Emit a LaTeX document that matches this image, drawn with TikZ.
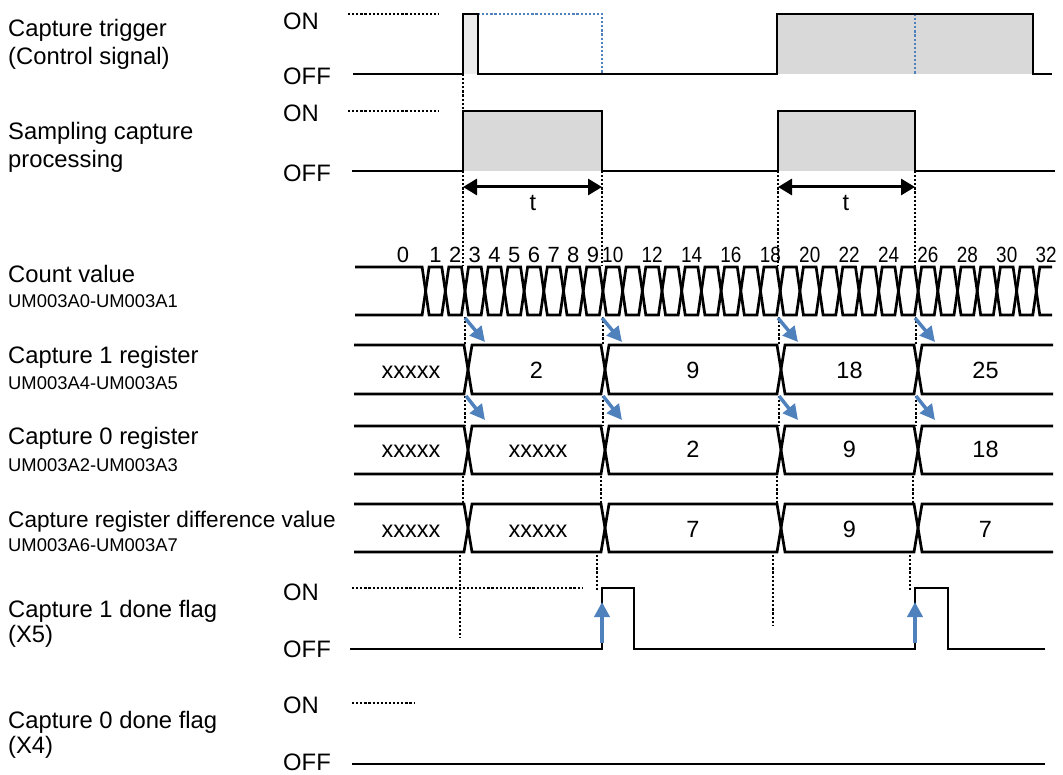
\documentclass[tikz,border=0pt]{standalone}
\usepackage{fontspec}
\setmainfont{Liberation Sans}
\usetikzlibrary{arrows.meta}
\definecolor{myblue}{RGB}{79,129,189}
\definecolor{fillgray}{RGB}{217,217,217}
\definecolor{palegray}{RGB}{236,236,236}
\begin{document}
\begin{tikzpicture}[x=1pt,y=-1pt,
  sig/.style={line width=2.9pt},
  bus/.style={line width=2.7pt},
  dots/.style={line width=2.4pt, dash pattern=on 2.2pt off 1.9pt},
  bdots/.style={myblue, line width=2.4pt, dash pattern=on 2.2pt off 1.9pt},
  lbl/.style={anchor=base west, inner sep=0pt, font=\fontsize{23.8}{28}\selectfont},
  sub/.style={anchor=base west, inner sep=0pt, font=\fontsize{18.4}{22}\selectfont},
  val/.style={anchor=base, inner sep=0pt, font=\fontsize{23.5}{28}\selectfont},
  cnt/.style={anchor=base, inner sep=0pt, font=\fontsize{22}{26}\selectfont},
  barrow/.style={myblue, line width=3.5pt, -{Triangle[length=15pt,width=15pt]}},
  uarrow/.style={myblue, line width=4pt, -{Triangle[length=15pt,width=15pt]}},
  tarrow/.style={line width=3pt, {Triangle[length=14pt,width=16pt]}-{Triangle[length=14pt,width=16pt]}},
]
\useasboundingbox (0,0) rectangle (1063,775);

% ---------- left labels ----------
\node[lbl] (l1a) at (8,36.5) {Capture trigger};
\node[lbl] (l1b) at (8,64.5) {(Control signal)};
\node[lbl] (l2a) at (8,140) {Sampling capture};
\node[lbl] (l2b) at (8,167.5) {processing};
\node[lbl] (l3a) at (8,283) {Count value};
\node[sub] (l3b) at (8,308) {UM003A0-UM003A1};
\node[lbl] (l4a) at (8,364) {Capture 1 register};
\node[sub] (l4b) at (8,390) {UM003A4-UM003A5};
\node[lbl] (l5a) at (8,445) {Capture 0 register};
\node[sub] (l5b) at (8,471) {UM003A2-UM003A3};
\node[lbl, font=\fontsize{22.6}{27}\selectfont] (l6a) at (8,527) {Capture register difference value};
\node[sub] (l6b) at (8,551) {UM003A6-UM003A7};
\node[lbl] (l7a) at (8,617) {Capture 1 done flag};
\node[lbl] (l7b) at (8,642) {(X5)};
\node[lbl] (l8a) at (8,728) {Capture 0 done flag};
\node[lbl] (l8b) at (8,753) {(X4)};

% ON / OFF
\node[lbl] (on1) at (283,29.5) {ON};
\node[lbl] (off1) at (283,85) {OFF};
\node[lbl] (on2) at (283,122) {ON};
\node[lbl] (off2) at (283,182) {OFF};
\node[lbl] (on3) at (283,600) {ON};
\node[lbl] (off3) at (283,657) {OFF};
\node[lbl] (on4) at (283,713) {ON};
\node[lbl] (off4) at (283,770) {OFF};

% ---------- capture trigger ----------
\fill[palegray] (463,14) rectangle (478,74);
\fill[fillgray] (777,14) rectangle (1033,74);
\draw[bdots] (478,14) -- (602,14) -- (602,74);
\draw[bdots] (915,14) -- (915,74);
\draw[sig] (353,74) -- (463,74) -- (463,14) -- (478,14) -- (478,74) -- (777,74) -- (777,14) -- (1033,14) -- (1033,74) -- (1052,74);
\draw[dots] (348,14) -- (439,14);

% ---------- sampling capture processing ----------
\fill[fillgray] (463,111) rectangle (602,171);
\fill[fillgray] (778,111) rectangle (915,171);
\draw[sig] (352,171) -- (463,171) -- (463,111) -- (602,111) -- (602,171) -- (778,171) -- (778,111) -- (915,111) -- (915,171) -- (1055,171);
\draw[dots] (348,111) -- (439,111);

% ---------- vertical dotted guides ----------
\draw[dots] (463,74) -- (463,111);
\foreach \x in {463,602,778,915} { \draw[dots] (\x,171) -- (\x,266); }
\foreach \x in {465,603,779,916} {
  \draw[dots] (\x,317) -- (\x,345);
  \draw[dots] (\x,396) -- (\x,426);
}
\foreach \x in {463,601,777,913} { \draw[dots] (\x,476) -- (\x,504); }
\draw[dots] (460,555) -- (460,638);
\draw[dots] (597,555) -- (597,590);
\draw[dots] (773,555) -- (773,625);
\draw[dots] (910,555) -- (910,590);

% ---------- t arrows ----------
\draw[tarrow] (463,187) -- (602,187);
\node[val] (t1) at (533,211) {t};
\draw[tarrow] (778,187) -- (915,187);
\node[val] (t2) at (846,211) {t};

% ---------- count value bus ----------
\draw[bus] (355,267) -- (422.1,267) -- (425.6,291) -- (422.1,315) -- (355,315);
\foreach \k [evaluate=\k as \xa using {465+(\k-3)*19.7},
             evaluate=\k as \xb using {465+(\k-2)*19.7}] in {1,...,31} {
  \draw[bus] (\xa,291) -- (\xa+3.5,267) -- (\xb-3.5,267) -- (\xb,291) -- (\xb-3.5,315) -- (\xa+3.5,315) -- cycle;
}
\draw[bus] (1052,267) -- (1039.8,267) -- (1036.3,291) -- (1039.8,315) -- (1052,315);

\node[cnt] (c0) at (403,263) {0};
\foreach \v [evaluate=\v as \cxx using {465+(\v-2.5)*19.7}] in {1,...,9} {
  \node[cnt] (c\v) at (\cxx,263) {\v};
}
\foreach \v [evaluate=\v as \cxx using {465+(\v-2.5)*19.7}] in {10,12,...,32} {
  \node[cnt] (c\v) at (\cxx,263) {\scalebox{0.86}[1]{\v}};
}

% ---------- register buses ----------
\foreach \T/\B in {345/394, 426/474, 504/552} {
  \pgfmathsetmacro{\M}{(\T+\B)/2}
  \draw[bus] (354,\T) -- (464,\T) -- (468,\M) -- (464,\B) -- (354,\B);
  \foreach \xa/\xb in {468/605, 605/781, 781/918} {
    \draw[bus] (\xa,\M) -- (\xa+4,\T) -- (\xb-4,\T) -- (\xb,\M) -- (\xb-4,\B) -- (\xa+4,\B) -- cycle;
  }
  \draw[bus] (1053,\T) -- (922,\T) -- (918,\M) -- (922,\B) -- (1053,\B);
}

% capture 1 register values
\node[val] (r1a) at (411,379) {xxxxx};
\node[val] (r1b) at (536.5,379) {2};
\node[val] (r1c) at (693,379) {9};
\node[val] (r1d) at (849.5,379) {18};
\node[val] (r1e) at (985.5,379) {25};
% capture 0 register values
\node[val] (r0a) at (411,457) {xxxxx};
\node[val] (r0b) at (538,457) {xxxxx};
\node[val] (r0c) at (693,457) {2};
\node[val] (r0d) at (849.5,457) {9};
\node[val] (r0e) at (985.5,457) {18};
% difference values
\node[val] (rda) at (411,537) {xxxxx};
\node[val] (rdb) at (538,537) {xxxxx};
\node[val] (rdc) at (693,537) {7};
\node[val] (rdd) at (849.5,537) {9};
\node[val] (rde) at (985.5,537) {7};

% ---------- blue diagonal arrows ----------
\foreach \x in {465,602,778,915} {
  \draw[barrow] (\x,318) -- (\x+20,342);
  \draw[barrow] (\x+1,396) -- (\x+20,420);
}

% ---------- capture 1 done flag ----------
\draw[sig] (350,649) -- (602,649) -- (602,588) -- (634,588) -- (634,649) -- (915,649) -- (915,588) -- (948,588) -- (948,649) -- (1045,649);
\draw[dots] (352,588) -- (582,588);
\draw[uarrow] (602,643) -- (602,602);
\draw[uarrow] (915,643) -- (915,602);

% ---------- capture 0 done flag ----------
\draw[sig] (352,764) -- (1045,764);
\draw[dots] (352,703) -- (415,703);

\end{tikzpicture}
\end{document}
